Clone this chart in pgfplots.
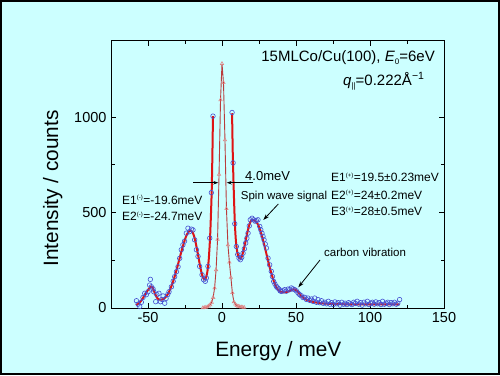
\documentclass[border=0pt]{standalone}
\usepackage{fontspec}
\setmainfont{Liberation Sans}
\usepackage{pgfplots}
\pgfplotsset{compat=1.18}
\usetikzlibrary{arrows.meta}
\definecolor{bgc}{RGB}{204,255,255}
\definecolor{fitred}{RGB}{222,20,20}
\definecolor{datablue}{RGB}{70,80,210}
\definecolor{elline}{RGB}{185,60,60}
\definecolor{elmark}{RGB}{225,130,130}
\newcommand{\tsup}[1]{\textsuperscript{\fontsize{6bp}{6bp}\selectfont #1}}
\newcommand{\tsub}[1]{\raisebox{-3bp}{\fontsize{8bp}{8bp}\selectfont #1}}
\begin{document}
\begin{tikzpicture}[x=1bp,y=1bp]
\fill[bgc] (0,0) rectangle (500,375);
\draw[line width=1.6bp] (0.8,0.8) rectangle (499.2,374.2);
\useasboundingbox (0,0) rectangle (500,375);
\begin{axis}[at={(111bp,67bp)}, anchor=south west, scale only axis,
  width=333bp, height=267.3bp,
  xmin=-75, xmax=150, ymin=0, ymax=1400,
  xtick={-50,0,50,100,150}, xticklabels={-50,0,50,100,150},
  ytick={0,500,1000}, yticklabels={0,500,1000},
  minor x tick num=1, minor y tick num=1,
  tick align=inside, major tick length=5bp, minor tick length=3.5bp,
  axis line style={line width=0.9bp}, every tick/.style={black,line width=0.8bp},
  tick label style={font=\fontsize{14.5bp}{16bp}\selectfont},
  xticklabel style={yshift=-1bp},
  yticklabel style={xshift=-1bp},
  axis background/.style={fill=bgc},
  clip=false]
% data circles, left
\addplot[only marks, mark=o, mark size=2.3bp, mark options={datablue, line width=0.6bp}] coordinates {
(-57.8,38) (-56.7,20) (-55.6,8) (-54.5,30) (-53.4,55) (-52.2,77) (-51.1,70) (-50.0,85)
(-48.9,120) (-48.4,150) (-47.7,111) (-46.6,100) (-46.1,85) (-44.8,33) (-44.0,70) (-42.6,77)
(-41.6,33) (-40.6,45) (-39.8,63) (-38.7,25) (-37.8,50) (-36.7,70) (-35.8,85) (-34.2,111)
(-33.0,140) (-32.0,164) (-30.8,190) (-29.7,216) (-28.6,260) (-27.5,305) (-26.4,331) (-25.3,350)
(-24.1,392) (-23.0,418) (-21.9,400) (-20.7,413) (-19.6,409) (-18.5,357) (-17.3,305) (-16.2,270)
(-15.1,218) (-13.5,174) (-12.4,148) (-11.3,140) (-10.6,157) (-9.5,218) (-8.3,366) (-7.2,604) (-6.1,1005)
};
% data circles, right
\addplot[only marks, mark=o, mark size=2.3bp, mark options={datablue, line width=0.6bp}] coordinates {
(6.8,1024) (7.5,760) (8.6,441) (9.7,322) (10.6,280) (11.5,261) (12.4,253) (13.3,265) (14.2,287)
(15.1,310) (16.0,340) (16.8,365) (17.6,392) (18.4,430) (19.1,462) (20.3,470) (21.4,462) (22.3,455)
(23.2,458) (24.3,462) (25.5,427) (26.2,410) (27.0,392) (27.7,375) (28.4,357) (29.2,335) (30.0,314)
(31.1,261) (32.2,226) (33.3,192) (34.1,165) (34.9,139) (35.8,125) (36.7,113) (37.6,105) (38.5,99)
(39.3,90) (40.1,87) (41.2,90) (42.3,96) (43.4,88) (44.6,99) (45.7,96) (46.8,105) (47.9,100)
(49.1,96) (50.2,90) (51.4,78) (52.5,70) (53.6,64) (54.7,55) (55.9,56) (57.0,45) (58.1,52)
(59.3,40) (60.4,47) (61.5,35) (62.6,52) (63.8,30) (64.9,44) (66.0,28) (67.2,38) (68.3,25)
(69.5,30) (70.6,22) (71.8,35) (72.9,20) (74.0,28) (75.2,18) (76.3,32) (77.5,22) (78.6,28)
(79.8,15) (80.9,30) (82.1,20) (83.2,25) (84.4,18) (85.5,28) (86.7,22) (87.8,18) (89.0,30)
(90.1,24) (91.3,35) (92.4,20) (93.6,28) (94.7,15) (95.9,30) (97.0,22) (98.2,35) (99.3,18)
(100.5,25) (101.6,30) (102.8,20) (103.9,32) (105.1,22) (106.2,28) (107.4,18) (108.5,35) (109.7,20)
(110.8,25) (112.0,30) (113.1,18) (114.2,28) (115.4,22) (116.5,30) (117.7,20) (118.8,25) (120.0,44)
};
% fit, left
\addplot[fitred, line width=2bp, smooth, tension=0.4] coordinates {
(-58,15) (-56,25) (-54,45) (-52,70) (-50,95) (-48,112) (-47,108) (-46,90) (-45,70) (-44,55)
(-43,46) (-42,44) (-41,44) (-40,46) (-39,50) (-38,58) (-37,68) (-36,82) (-35,98) (-34,118)
(-33,140) (-32,165) (-31,192) (-30,220) (-29,250) (-28,280) (-27,308) (-26,335) (-25,360)
(-24,380) (-23,395) (-22,403) (-21,405) (-20,398) (-19,380) (-18,350) (-17,312) (-16,270)
(-15,228) (-14,190) (-13,162) (-12,150) (-11,155) (-10,185) (-9,250) (-8,380) (-7,600) (-6.5,800) (-6.1,1005)
};
% fit, right
\addplot[fitred, line width=2bp, smooth, tension=0.4] coordinates {
(6.8,1020) (7.3,800) (8,600) (8.7,440) (9.5,340) (10.5,285) (11.5,262) (12.5,258) (13.5,272)
(14.5,300) (15.5,335) (16.5,372) (17.5,408) (18.5,437) (19.5,455) (20.5,462) (21.5,460) (22.5,455)
(23.5,448) (24.5,435) (25.5,415) (26.5,390) (27.5,362) (28.5,332) (29.5,300) (30.5,268) (31.5,236)
(32.5,205) (33.5,178) (34.5,152) (35.5,130) (36.5,113) (37.5,100) (38.5,91) (39.5,86) (40.5,83)
(42,82) (44,84) (46,90) (48,97) (49,98) (50,94) (51,86) (52,77) (53,68) (54,60) (55,53) (56,47)
(58,40) (60,35) (62,31) (65,27) (68,24) (72,22) (80,20) (90,19) (100,19) (110,19) (120,19)
};
% elastic peak
\addplot[elline, line width=0.9bp, mark=triangle, mark size=2bp, mark options={elmark, line width=0.5bp}] coordinates {
(-13,1) (-12,2) (-11,3) (-10,6) (-9,10) (-8,17) (-7,30) (-6,55) (-5,105) (-4,200) (-3,360)
(-2,700) (-1,1090) (0,1280) (1,1180) (2,880) (3,520) (4,330) (5,240) (6,160) (7,80) (8,32)
(9,20) (10,13) (11,9) (12,7) (13,5) (14,4) (15,3)
};
\end{axis}
% labels
\node[anchor=base, font=\fontsize{20.8bp}{24bp}\selectfont, inner sep=0] at (278.3,18.3) {Energy / meV};
\node[anchor=base, rotate=90, font=\fontsize{20.8bp}{24bp}\selectfont, inner sep=0] at (58,186.5) {Intensity / counts};
% annotations
\node[anchor=base east, font=\fontsize{15bp}{18bp}\selectfont, inner sep=0] at (435,314) {15MLCo/Cu(100), \textit{E}\tsub{0}=6eV};
\node[anchor=base west, font=\fontsize{15bp}{18bp}\selectfont, inner sep=0] at (343,290) {\textit{q}\tsub{||}=0.222Å\textsuperscript{−1}};
\node[anchor=base west, font=\fontsize{13bp}{15bp}\selectfont, inner sep=0] at (245,195) {4.0meV};
\draw[line width=0.8bp, -{Stealth[length=5bp,width=3.5bp]}] (193.3,192.3) -- (218.3,192.3);
\draw[line width=0.8bp, -{Stealth[length=5bp,width=3.5bp]}] (253.3,192.3) -- (226.7,192.3);
\node[anchor=base west, font=\fontsize{12bp}{14bp}\selectfont, inner sep=0] at (122,171) {E1\tsup{(-)}=-19.6meV};
\node[anchor=base west, font=\fontsize{12bp}{14bp}\selectfont, inner sep=0] at (122,154.3) {E2\tsup{(-)}=-24.7meV};
\node[anchor=base west, font=\fontsize{11.5bp}{14bp}\selectfont, inner sep=0] at (240.7,175.7) {Spin wave signal};
\node[anchor=base west, font=\fontsize{12bp}{14bp}\selectfont, inner sep=0] at (331,193.3) {E1\tsup{(+)}=19.5±0.23meV};
\node[anchor=base west, font=\fontsize{12bp}{14bp}\selectfont, inner sep=0] at (331,176) {E2\tsup{(+)}=24±0.2meV};
\node[anchor=base west, font=\fontsize{12bp}{14bp}\selectfont, inner sep=0] at (331,159.3) {E3\tsup{(+)}=28±0.5meV};
\draw[line width=0.8bp, -{Stealth[length=6bp,width=4bp]}] (278.3,171) -- (263.3,155);
\node[anchor=base west, font=\fontsize{11.5bp}{14bp}\selectfont, inner sep=0] at (324,119) {carbon vibration};
\draw[line width=0.8bp, -{Stealth[length=6bp,width=4bp]}] (320,115) -- (298.3,87.7);
\end{tikzpicture}
\end{document}
